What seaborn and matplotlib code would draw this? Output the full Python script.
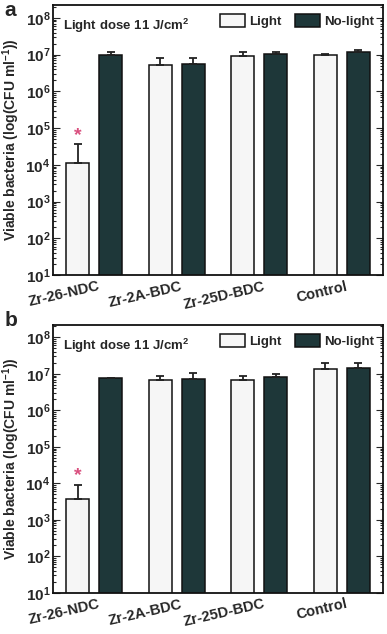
import numpy as np
import pandas as pd
import matplotlib
matplotlib.use("Agg")
import matplotlib.pyplot as plt
import matplotlib.ticker as mticker
import matplotlib.transforms as mtransforms
from matplotlib.patches import Patch
import seaborn as sns

# data
categories = ["Zr-26-NDC", "Zr-2A-BDC", "Zr-25D-BDC", "Control"]
conditions = ["Light", "No-light"]

a_light = [1.1e4, 5.4e6, 9.0e6, 9.5e6]
a_light_top = [3.6e4, 7.9e6, 1.15e7, 1.05e7]
a_dark = [1.0e7, 5.6e6, 1.07e7, 1.17e7]
a_dark_top = [1.15e7, 8.3e6, 1.2e7, 1.3e7]

b_light = [3.7e3, 6.6e6, 6.9e6, 1.38e7]
b_light_top = [8.9e3, 8.8e6, 8.5e6, 1.95e7]
b_dark = [7.5e6, 7.2e6, 8.1e6, 1.43e7]
b_dark_top = [7.9e6, 1.07e7, 1.0e7, 2.0e7]

star_a = 6.3e4
star_b = 1.67e4

light_color = "#f6f6f6"
dark_color = "#1e3739"
star_color = "#d9507f"

sns.set_style("ticks")
plt.rcParams["font.family"] = ["Liberation Sans", "DejaVu Sans"]
plt.rcParams["font.weight"] = "bold"
plt.rcParams["axes.labelweight"] = "bold"
plt.rcParams["mathtext.fontset"] = "custom"
plt.rcParams["mathtext.rm"] = "Liberation Sans:bold"
plt.rcParams["mathtext.bf"] = "Liberation Sans:bold"
plt.rcParams["mathtext.default"] = "bf"


def make_frame(light, dark):
    rows = []
    for cond, vals in zip(conditions, [light, dark]):
        for cat, v in zip(categories, vals):
            rows.append({"Sample": cat, "Condition": cond, "Value": v})
    return pd.DataFrame(rows)


def draw_panel(fig, ax, light, light_top, dark, dark_top, star_y):
    df = make_frame(light, dark)
    sns.barplot(data=df, x="Sample", y="Value", hue="Condition",
                hue_order=conditions, order=categories,
                palette=[light_color, dark_color], errorbar=None,
                width=0.8, gap=0.3, edgecolor="#111111", linewidth=1.1,
                saturation=1, legend=False, ax=ax)
    ax.set_yscale("log")

    # upper-only error bars
    for cont, vals, tops in zip(ax.containers, [light, dark], [light_top, dark_top]):
        xs = [p.get_x() + p.get_width() / 2 for p in cont.patches]
        up = np.array(tops) - np.array(vals)
        ax.errorbar(xs, vals, yerr=[np.zeros(len(vals)), up], fmt="none",
                    ecolor="#222222", elinewidth=1.3, capsize=3, capthick=1.3)

    first = ax.containers[0].patches[0]
    ax.text(first.get_x() + first.get_width() / 2, star_y, "*",
            color=star_color, ha="center", va="center", fontsize=14)

    ax.set_ylim(10, 10 ** 8.35)
    ax.set_xlim(-0.5, 3.5)
    ax.yaxis.set_major_locator(mticker.LogLocator(base=10, numticks=20))
    ax.yaxis.set_minor_locator(mticker.LogLocator(base=10, subs=np.arange(2, 10), numticks=20))
    ax.yaxis.set_minor_formatter(mticker.NullFormatter())
    ax.tick_params(axis="y", which="both", direction="in", right=True,
                   labelsize=11, width=0.8, pad=2)
    ax.tick_params(axis="y", which="major", length=5)
    ax.tick_params(axis="y", which="minor", length=2.5)
    ax.tick_params(axis="x", length=0, labelsize=10.5, pad=3)
    shift = mtransforms.ScaledTranslation(4 / 100, 0, fig.dpi_scale_trans)
    for lab in ax.get_xticklabels():
        lab.set_rotation(13)
        lab.set_ha("right")
        lab.set_rotation_mode("anchor")
        lab.set_fontweight("bold")
        lab.set_transform(lab.get_transform() + shift)
    for s in ax.spines.values():
        s.set_visible(True)
        s.set_linewidth(1.3)
        s.set_color("#111111")

    ax.set_xlabel("")
    ax.set_ylabel("Viable bacteria (log(CFU ml$^{-1}$))", fontsize=10,
                  fontweight="bold", labelpad=2)
    ax.text(0.03, 0.955, "Light dose 11 J/cm$^{2}$", transform=ax.transAxes,
            fontsize=9.5, fontweight="bold", va="top", ha="left")

    handles = [Patch(facecolor=light_color, edgecolor="#111111", linewidth=1.1),
               Patch(facecolor=dark_color, edgecolor="#111111", linewidth=1.1)]
    ax.legend(handles, conditions, loc="upper right", ncol=2, frameon=False,
              handlelength=1.9, handleheight=1.1, handletextpad=0.3,
              columnspacing=1.0, borderaxespad=0.3,
              prop={"weight": "bold", "size": 9.5})


fig = plt.figure(figsize=(3.87, 6.34), dpi=100)
ax_a = fig.add_axes([0.137, 0.566, 0.853, 0.426])
ax_b = fig.add_axes([0.137, 0.065, 0.853, 0.423])

draw_panel(fig, ax_a, a_light, a_light_top, a_dark, a_dark_top, star_a)
draw_panel(fig, ax_b, b_light, b_light_top, b_dark, b_dark_top, star_b)

fig.text(0.012, 0.998, "a", fontsize=15, fontweight="bold", va="top", ha="left")
fig.text(0.012, 0.51, "b", fontsize=15, fontweight="bold", va="top", ha="left")

fig.savefig("out.png", dpi=100)
